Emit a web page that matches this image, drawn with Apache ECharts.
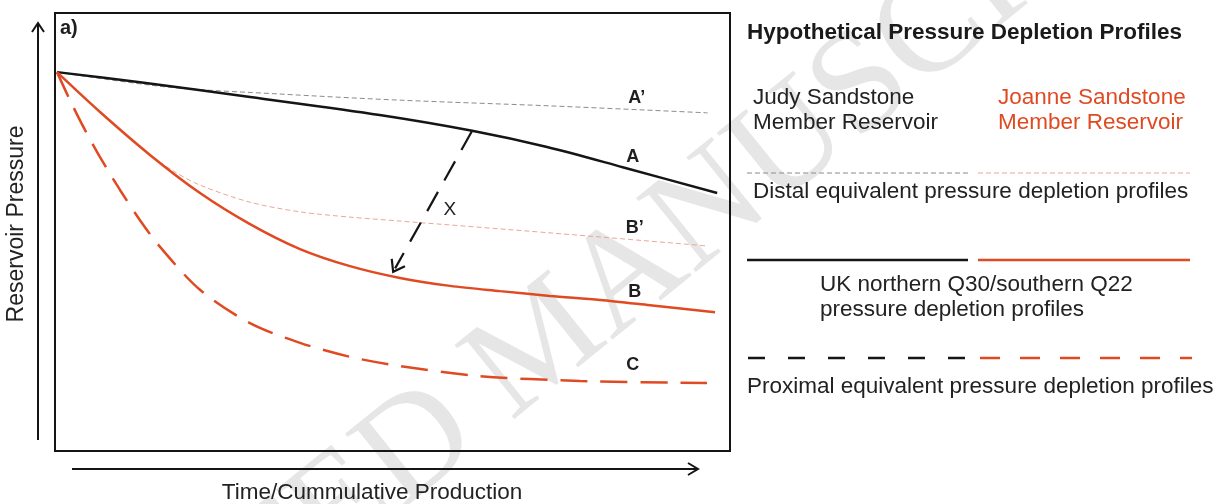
<!DOCTYPE html>
<html>
<head>
<meta charset="utf-8">
<script src="https://cdn.jsdelivr.net/npm/echarts@6/dist/echarts.min.js"></script>
<style>
  html, body { margin: 0; padding: 0; background: #ffffff; }
  #chart { width: 1217px; height: 504px; }
</style>
</head>
<body>
<div id="chart"></div>
<script>
// Hypothetical pressure depletion profiles (normalised time 0-100, pressure 0-100)
const curveA      = [[0.3,86.5],[12.6,84.2],[28.9,80.8],[48.1,76.7],[61.8,73.1],[72.9,69.4],[84.1,64.8],[98.1,58.9]];
const curveAprime = [[0.3,86.5],[16.6,83.1],[33.3,81.5],[51.1,80.1],[73.3,78.8],[96.7,77.2]];
const curveB      = [[0.3,86.5],[6.67,77.4],[14.07,67.6],[21.48,58.9],[28.89,51.8],[36.3,46.1],[43.7,42.2],[51.11,39.5],[58.52,37.7],[65.93,36.5],[73.33,35.4],[80.74,34.5],[88.15,33.3],[97.78,31.7]];
const curveBprime = [[0.3,86.5],[6.67,77.4],[14.07,67.6],[17.78,63.7],[21.48,60.7],[28.89,56.8],[36.3,54.6],[43.7,53.4],[51.11,52.5],[73.33,49.8],[96.74,46.8]];
const curveC      = [[0.3,86.5],[2.22,80.1],[4.44,73.3],[6.67,67.1],[9.63,59.6],[12.59,52.7],[15.56,46.6],[21.48,36.8],[28.89,29.2],[36.3,24.7],[43.7,21.5],[51.11,19.4],[62.96,17.1],[77.78,16.0],[96.59,15.5]];
// Shift "X" from profile A to profile B
const shiftX      = [[61.8,73.1,50.1,40.9]];
// Curve tags [x, y, text, bold]
const curveTags   = [[86.2,80.6,'A\u2019',1],[85.6,67.1,'A',1],[85.9,50.9,'B\u2019',1],[85.9,36.3,'B',1],[85.6,19.6,'C',1],[58.5,55.0,'X',0]];

const RED = '#e04a22';
const INK = '#151515';
const FONT = '"Liberation Sans", Arial, Helvetica, sans-serif';

const chart = echarts.init(document.getElementById('chart'), null, { renderer: 'canvas' });

function chevron(tip, dir, len, spread) {
  const pts = [];
  [spread, -spread].forEach(function (a) {
    const c = Math.cos(a), s = Math.sin(a);
    const bx = -(dir[0] * c - dir[1] * s), by = -(dir[0] * s + dir[1] * c);
    pts.push([tip[0] + bx * len, tip[1] + by * len]);
  });
  return [pts[0], tip, pts[1]];
}

function keyText(x, y, text, color) {
  return {
    type: 'text', x: x, y: y, silent: true,
    style: { text: text, font: '22.5px ' + FONT, fill: color || '#222', verticalAlign: 'middle' }
  };
}

const option = {
  backgroundColor: '#ffffff',
  animation: false,
  grid: { left: 55, top: 13, width: 675, height: 438, show: true, borderColor: INK, borderWidth: 2, backgroundColor: 'transparent' },
  xAxis: { type: 'value', min: 0, max: 100, show: false },
  yAxis: { type: 'value', min: 0, max: 100, show: false },
  series: [
    { name: "A'", type: 'line', data: curveAprime, smooth: 0.3, showSymbol: false, z: 2,
      lineStyle: { color: '#8c8c8c', width: 1, type: [5, 3] } },
    { name: "B'", type: 'line', data: curveBprime, smooth: 0.3, showSymbol: false, z: 2,
      lineStyle: { color: '#e9a894', width: 1, type: [5, 3] } },
    { name: 'A', type: 'line', data: curveA, smooth: 0.3, showSymbol: false, z: 3,
      lineStyle: { color: INK, width: 2.5 } },
    { name: 'B', type: 'line', data: curveB, smooth: 0.3, showSymbol: false, z: 3,
      lineStyle: { color: RED, width: 2.5 } },
    { name: 'C', type: 'line', data: curveC, smooth: 0.3, showSymbol: false, z: 3,
      lineStyle: { color: RED, width: 2.5, type: [27, 13] } },
    { name: 'shift', type: 'custom', data: shiftX, z: 4,
      renderItem: function (params, api) {
        const p0 = api.coord([api.value(0), api.value(1)]);
        const p1 = api.coord([api.value(2), api.value(3)]);
        const dx = p1[0] - p0[0], dy = p1[1] - p0[1];
        const L = Math.sqrt(dx * dx + dy * dy);
        const u = [dx / L, dy / L];
        return { type: 'group', children: [
          { type: 'line', shape: { x1: p0[0], y1: p0[1], x2: p1[0] - u[0] * 4, y2: p1[1] - u[1] * 4 },
            style: { stroke: INK, lineWidth: 2.2, lineDash: [22, 13] } },
          { type: 'polyline', shape: { points: chevron(p1, u, 13, 0.62) },
            style: { stroke: INK, lineWidth: 2.2, fill: null } }
        ]};
      } },
    { name: 'tags', type: 'custom', data: curveTags, z: 5,
      renderItem: function (params, api) {
        const p = api.coord([api.value(0), api.value(1)]);
        const item = curveTags[params.dataIndex];
        return { type: 'text', x: p[0], y: p[1],
          style: { text: item[2], font: (item[3] ? 'bold 18px ' : '19px ') + FONT, fill: '#1e1e1e',
            align: 'center', verticalAlign: 'middle' } };
      } }
  ],
  graphic: [
    // watermark
    { type: 'text', x: 545, y: 345, rotation: 39 * Math.PI / 180, z: -10, silent: true,
      style: { text: 'ACCEPTED MANUSCRIPT', font: '145px "Liberation Serif", "Times New Roman", serif',
        fill: '#e6e6e6', align: 'center', verticalAlign: 'middle' } },
    // panel tag
    { type: 'text', x: 60, y: 28, silent: true,
      style: { text: 'a)', font: 'bold 20px ' + FONT, fill: '#1e1e1e', verticalAlign: 'middle' } },
    // axis arrows
    { type: 'polyline', silent: true, shape: { points: [[38, 440], [38, 23]] }, style: { stroke: INK, lineWidth: 2, fill: null } },
    { type: 'polyline', silent: true, shape: { points: [[32, 32], [38, 23], [44, 32]] }, style: { stroke: INK, lineWidth: 2, fill: null } },
    { type: 'polyline', silent: true, shape: { points: [[72, 469], [698, 469]] }, style: { stroke: INK, lineWidth: 2, fill: null } },
    { type: 'polyline', silent: true, shape: { points: [[688, 463], [698, 469], [688, 475]] }, style: { stroke: INK, lineWidth: 2, fill: null } },
    // axis titles
    { type: 'text', x: 17, y: 224, rotation: Math.PI / 2, silent: true,
      style: { text: 'Reservoir Pressure', font: '23px ' + FONT, fill: '#222', align: 'center', verticalAlign: 'middle' } },
    { type: 'text', x: 372, y: 493, silent: true,
      style: { text: 'Time/Cummulative Production', font: '22.5px ' + FONT, fill: '#222', align: 'center', verticalAlign: 'middle' } },
    // key
    { type: 'text', x: 747, y: 33, silent: true,
      style: { text: 'Hypothetical Pressure Depletion Profiles', font: 'bold 22.5px ' + FONT, fill: '#1a1a1a', verticalAlign: 'middle' } },
    keyText(753, 98, 'Judy Sandstone'),
    keyText(753, 123, 'Member Reservoir'),
    keyText(998, 98, 'Joanne Sandstone', RED),
    keyText(998, 123, 'Member Reservoir', RED),
    { type: 'line', silent: true, shape: { x1: 747, y1: 173, x2: 968, y2: 173 }, style: { stroke: '#8c8c8c', lineWidth: 1, lineDash: [5, 3] } },
    { type: 'line', silent: true, shape: { x1: 978, y1: 173, x2: 1190, y2: 173 }, style: { stroke: '#e9a894', lineWidth: 1, lineDash: [5, 3] } },
    keyText(753, 192, 'Distal equivalent pressure depletion profiles'),
    { type: 'line', silent: true, shape: { x1: 747, y1: 260, x2: 968, y2: 260 }, style: { stroke: INK, lineWidth: 2.5 } },
    { type: 'line', silent: true, shape: { x1: 978, y1: 260, x2: 1190, y2: 260 }, style: { stroke: RED, lineWidth: 2.5 } },
    keyText(820, 285, 'UK northern Q30/southern Q22'),
    keyText(820, 310, 'pressure depletion profiles'),
    { type: 'line', silent: true, shape: { x1: 748, y1: 358, x2: 969, y2: 358 }, style: { stroke: INK, lineWidth: 2.5, lineDash: [17, 23] } },
    { type: 'line', silent: true, shape: { x1: 980, y1: 358, x2: 1192, y2: 358 }, style: { stroke: RED, lineWidth: 2.5, lineDash: [20, 20] } },
    keyText(747, 387, 'Proximal equivalent pressure depletion profiles')
  ]
};

chart.setOption(option);
</script>
</body>
</html>
